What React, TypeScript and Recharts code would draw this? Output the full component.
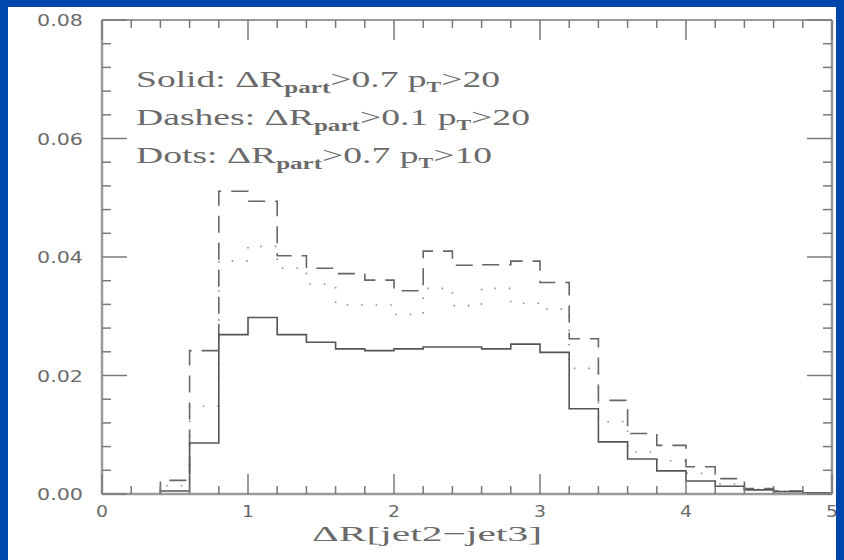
import { Line, LineChart, XAxis, YAxis } from 'recharts';

// bin edges of the ΔR histogram (0.2 wide bins, last edge closes the final bin)
const binEdges = [
  0, 0.2, 0.4, 0.6, 0.8, 1.0, 1.2, 1.4, 1.6, 1.8, 2.0, 2.2, 2.4,
  2.6, 2.8, 3.0, 3.2, 3.4, 3.6, 3.8, 4.0, 4.2, 4.4, 4.6, 4.8, 5.0
];

// Solid: ΔR_part > 0.7, pT > 20
const solidVals = [
  0, 0, 0.0005, 0.0086, 0.0269, 0.0298, 0.0269, 0.0256, 0.0245, 0.0242, 0.0245, 0.0248, 0.0248,
  0.0245, 0.0253, 0.0239, 0.0144, 0.0088, 0.0059, 0.0039, 0.0022, 0.0013, 0.0007, 0.0004, 0.0002
];

// Dashes: ΔR_part > 0.1, pT > 20
const dashVals = [
  0, 0, 0.0023, 0.0242, 0.0511, 0.0494, 0.0402, 0.0381, 0.0372, 0.0361, 0.0343, 0.041, 0.0386,
  0.0387, 0.0393, 0.0357, 0.0262, 0.0158, 0.0102, 0.0082, 0.0046, 0.0026, 0.0009, 0.0005, 0.0002
];

// Dots: ΔR_part > 0.7, pT > 10
const dotVals = [
  0, 0, 0.0014, 0.0148, 0.0393, 0.0418, 0.0381, 0.0354, 0.0319, 0.0319, 0.0303, 0.0347, 0.0318,
  0.0347, 0.0322, 0.0312, 0.0212, 0.0122, 0.0071, 0.0056, 0.0035, 0.0017, 0.0008, 0.0004, 0.0002
];

const xTicks = binEdges;
const yTicks = [
  0, 0.004, 0.008, 0.012, 0.016, 0.02, 0.024, 0.028, 0.032, 0.036, 0.04,
  0.044, 0.048, 0.052, 0.056, 0.06, 0.064, 0.068, 0.072, 0.076, 0.08
];

const legendRows = [
  { name: 'Solid:', cut: '0.7', pt: '20', width: 364 },
  { name: 'Dashes:', cut: '0.1', pt: '20', width: 394 },
  { name: 'Dots:', cut: '0.7', pt: '10', width: 356 }
];

const chartData = binEdges.map((x, i) => {
  const k = Math.min(i, solidVals.length - 1);
  return { x, solid: solidVals[k], dash: dashVals[k], dot: dotVals[k] };
});

const TICK_COLOR = '#7a7a7a';
const LABEL_COLOR = '#6a6a6a';
const FRAME = '#9a9a9a';

const isMajorX = (v: number) => Math.abs(v - Math.round(v)) < 1e-6;
const isMajorY = (v: number) => Math.abs(v * 50 - Math.round(v * 50)) < 1e-6;

const BottomTick = (props: any) => {
  const { x, y, payload } = props;
  const axisY = y - 11;
  const major = isMajorX(payload.value);
  return (
    <g>
      <line x1={x} x2={x} y1={axisY} y2={axisY - (major ? 20 : 8)} stroke={TICK_COLOR} strokeWidth={1.5} />
      {major && (
        <text x={x} y={axisY + 23} textAnchor="middle" fontSize={16} fill={LABEL_COLOR}
          fontFamily="DejaVu Sans" textLength={12} lengthAdjust="spacingAndGlyphs">
          {Math.round(payload.value)}
        </text>
      )}
    </g>
  );
};

const TopTick = (props: any) => {
  const { x, y, payload } = props;
  const major = isMajorX(payload.value);
  return <line x1={x} x2={x} y1={y} y2={y + (major ? 20 : 8)} stroke={TICK_COLOR} strokeWidth={1.5} />;
};

const LeftTick = (props: any) => {
  const { x, y, payload } = props;
  const axisX = x + 20;
  const major = isMajorY(payload.value);
  return (
    <g>
      <line x1={axisX} x2={axisX + (major ? 25 : 9)} y1={y} y2={y} stroke={TICK_COLOR} strokeWidth={1.5} />
      {major && (
        <text x={x + 1} y={y + 6} textAnchor="end" fontSize={16} fill={LABEL_COLOR}
          fontFamily="DejaVu Sans" textLength={46} lengthAdjust="spacingAndGlyphs">
          {payload.value.toFixed(2)}
        </text>
      )}
    </g>
  );
};

const RightTick = (props: any) => {
  const { x, y, payload } = props;
  const major = isMajorY(payload.value);
  return <line x1={x} x2={x - (major ? 25 : 9)} y1={y} y2={y} stroke={TICK_COLOR} strokeWidth={1.5} />;
};

const App = () => {
  return (
    <div style={{ position: 'fixed', left: 0, top: 0, width: 844, height: 560, background: '#0047ad' }}>
      <div style={{ position: 'absolute', left: 8, top: 7, width: 828, height: 553, background: '#fff' }}>
        <LineChart width={828} height={553} data={chartData} margin={{ top: 0, right: 0, bottom: 0, left: 0 }}>
          <XAxis dataKey="x" type="number" domain={[0, 5]} ticks={xTicks} interval={0} height={66}
            tickSize={0} tickMargin={11} tickLine={false} tick={<BottomTick />}
            axisLine={{ stroke: FRAME, strokeWidth: 2.5 }} allowDataOverflow />
          <XAxis xAxisId="top" orientation="top" dataKey="x" type="number" domain={[0, 5]} ticks={xTicks}
            interval={0} height={13} tickSize={0} tickMargin={0} tickLine={false} tick={<TopTick />}
            axisLine={{ stroke: FRAME, strokeWidth: 2 }} allowDataOverflow />
          <YAxis type="number" domain={[0, 0.08]} ticks={yTicks} interval={0} width={94}
            tickSize={0} tickMargin={20} tickLine={false} tick={<LeftTick />}
            axisLine={{ stroke: FRAME, strokeWidth: 2.5 }} allowDataOverflow />
          <YAxis yAxisId="right" orientation="right" type="number" domain={[0, 0.08]} ticks={yTicks}
            interval={0} width={4} tickSize={0} tickMargin={0} tickLine={false} tick={<RightTick />}
            axisLine={{ stroke: FRAME, strokeWidth: 2.5 }} allowDataOverflow />
          <Line type="stepAfter" dataKey="dot" stroke="#8a8a8a" strokeWidth={1.6} strokeDasharray="1.5 13"
            dot={false} isAnimationActive={false} />
          <Line type="stepAfter" dataKey="dash" stroke="#666" strokeWidth={1.6} strokeDasharray="17 10"
            dot={false} isAnimationActive={false} />
          <Line type="stepAfter" dataKey="solid" stroke="#555" strokeWidth={1.6}
            dot={false} isAnimationActive={false} />
        </LineChart>
      </div>
      <svg width={844} height={560} style={{ position: 'absolute', left: 0, top: 0, pointerEvents: 'none' }}>
        {legendRows.map((row, i) => (
          <text key={row.name} x={136} y={87 + i * 38} fontSize={24} fill="#6a6a6a" fontFamily="Liberation Serif"
            textLength={row.width} lengthAdjust="spacingAndGlyphs">
            {row.name} ΔR
            <tspan dy={6} fontSize={16} fontWeight="bold">part</tspan>
            <tspan dy={-6}>&gt;{row.cut} p</tspan>
            <tspan dy={5} fontSize={14} fontWeight="bold">T</tspan>
            <tspan dy={-5}>&gt;{row.pt}</tspan>
          </text>
        ))}
        <text x={312} y={541} fontSize={22} fill="#6a6a6a" fontFamily="Liberation Serif"
          textLength={230} lengthAdjust="spacingAndGlyphs">
          ΔR[jet2−jet3]
        </text>
      </svg>
    </div>
  );
};

export default App;
